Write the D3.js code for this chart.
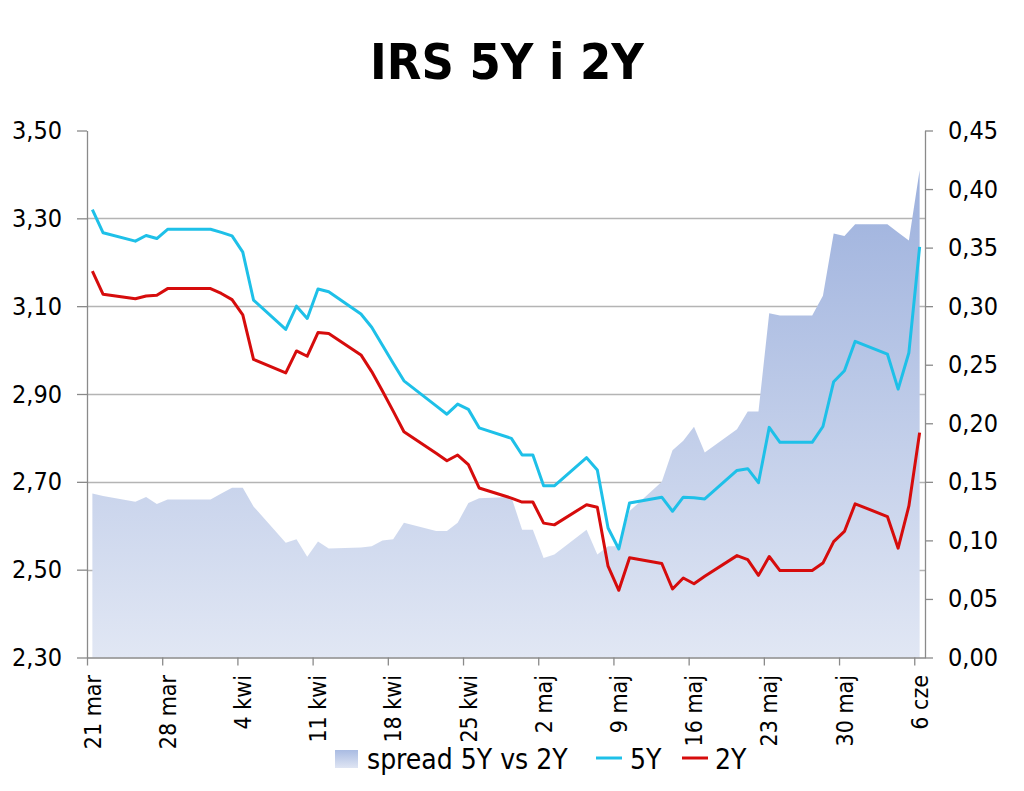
<!DOCTYPE html>
<html lang="pl">
<head>
<meta charset="utf-8">
<title>IRS 5Y i 2Y</title>
<script src="https://d3js.org/d3.v7.min.js"></script>
<style>
  body { margin: 0; background: #fff; }
  svg text { font-family: "DejaVu Sans Condensed", "DejaVu Sans", sans-serif; font-stretch: condensed; fill: #000; }
</style>
</head>
<body>
<script>
// dates of the quotes (holidays carry the previous value)
let dates = ["2013-03-21","2013-03-22","2013-03-25","2013-03-26","2013-03-27","2013-03-28","2013-03-29",
  "2013-04-01","2013-04-02","2013-04-03","2013-04-04","2013-04-05","2013-04-08","2013-04-09","2013-04-10",
  "2013-04-11","2013-04-12","2013-04-15","2013-04-16","2013-04-17","2013-04-18","2013-04-19","2013-04-22",
  "2013-04-23","2013-04-24","2013-04-25","2013-04-26","2013-04-29","2013-04-30","2013-05-01","2013-05-02",
  "2013-05-03","2013-05-06","2013-05-07","2013-05-08","2013-05-09","2013-05-10","2013-05-13","2013-05-14",
  "2013-05-15","2013-05-16","2013-05-17","2013-05-20","2013-05-21","2013-05-22","2013-05-23","2013-05-24",
  "2013-05-27","2013-05-28","2013-05-29","2013-05-30","2013-05-31","2013-06-03","2013-06-04","2013-06-05",
  "2013-06-06"];

let irs5y = [3.320,3.267,3.248,3.261,3.254,3.275,3.275,
  3.275,3.268,3.260,3.223,3.114,3.047,3.100,3.072,
  3.139,3.133,3.082,3.052,3.011,2.970,2.930,2.873,
  2.854,2.877,2.865,2.823,2.799,2.761,2.761,2.691,
  2.691,2.755,2.727,2.595,2.547,2.652,2.665,2.633,
  2.665,2.664,2.661,2.726,2.730,2.698,2.824,2.790,
  2.790,2.826,2.928,2.953,3.020,2.991,2.911,2.994,
  3.235];

let irs2y = [3.180,3.127,3.117,3.123,3.125,3.140,3.140,
  3.140,3.129,3.115,3.080,2.979,2.948,2.998,2.986,
  3.040,3.038,2.989,2.951,2.907,2.861,2.814,2.765,
  2.748,2.761,2.739,2.686,2.663,2.654,2.654,2.606,
  2.602,2.648,2.642,2.508,2.453,2.527,2.514,2.456,
  2.481,2.468,2.485,2.532,2.523,2.487,2.530,2.498,
  2.498,2.515,2.564,2.587,2.650,2.621,2.549,2.645,
  2.812];

let spread = [0.140,0.138,0.133,0.137,0.131,0.135,0.135,
  0.135,0.140,0.145,0.145,0.129,0.098,0.101,0.086,
  0.099,0.093,0.094,0.095,0.100,0.101,0.115,0.108,
  0.108,0.115,0.132,0.136,0.137,0.109,0.109,0.085,
  0.088,0.109,0.088,0.095,0.095,0.125,0.150,0.177,
  0.185,0.197,0.175,0.195,0.210,0.210,0.294,0.292,
  0.292,0.309,0.362,0.360,0.370,0.370,0.363,0.356,
  0.416];

let tickDates = ["2013-03-21","2013-03-28","2013-04-04","2013-04-11","2013-04-18","2013-04-25",
  "2013-05-02","2013-05-09","2013-05-16","2013-05-23","2013-05-30","2013-06-06"];
let tickLabels = ["21 mar","28 mar","4 kwi","11 kwi","18 kwi","25 kwi",
  "2 maj","9 maj","16 maj","23 maj","30 maj","6 cze"];

let leftTicks = [2.30, 2.50, 2.70, 2.90, 3.10, 3.30, 3.50];
let rightTicks = [0, 0.05, 0.10, 0.15, 0.20, 0.25, 0.30, 0.35, 0.40, 0.45];

let w = 1024, h = 791;
let plotLeft = 87, plotRight = 925, plotTop = 130.5, plotBottom = 657.5;

let parse = d3.timeParse("%Y-%m-%d");
// each quote sits in the middle of its day
let mid = function (s) { return d3.timeHour.offset(parse(s), 12); };

let x = d3.scaleTime()
  .domain([parse("2013-03-21"), parse("2013-06-07")])
  .range([plotLeft, plotRight]);
let yL = d3.scaleLinear().domain([2.30, 3.50]).range([plotBottom, plotTop]);
let yR = d3.scaleLinear().domain([0, 0.45]).range([plotBottom, plotTop]);

let comma = function (d) { return d3.format(".2f")(d).replace(".", ","); };

let svg = d3.select("body").append("svg")
  .attr("width", w)
  .attr("height", h);

// gradient for the spread area
let defs = svg.append("defs");
let grad = defs.append("linearGradient")
  .attr("id", "spreadFill")
  .attr("gradientUnits", "userSpaceOnUse")
  .attr("x1", 0).attr("x2", 0)
  .attr("y1", plotTop).attr("y2", plotBottom);
grad.append("stop").attr("offset", "0%").attr("stop-color", "#97acdb");
grad.append("stop").attr("offset", "100%").attr("stop-color", "#e1e7f4");

let legGrad = defs.append("linearGradient")
  .attr("id", "legFill")
  .attr("x1", 0).attr("x2", 0).attr("y1", 0).attr("y2", 1);
legGrad.append("stop").attr("offset", "0%").attr("stop-color", "#a9bbe2");
legGrad.append("stop").attr("offset", "100%").attr("stop-color", "#dfe5f3");

// title
svg.append("text")
  .attr("x", 507).attr("y", 79)
  .attr("text-anchor", "middle")
  .attr("font-size", "50px")
  .attr("font-weight", "bold")
  .text("IRS 5Y i 2Y");

// grid lines
svg.append("g").selectAll("line")
  .data(leftTicks.slice(1, -1))
  .enter().append("line")
  .attr("x1", plotLeft).attr("x2", plotRight)
  .attr("y1", function (d) { return Math.round(yL(d)) + 0.5; })
  .attr("y2", function (d) { return Math.round(yL(d)) + 0.5; })
  .attr("stroke", "#b4b4b4")
  .attr("stroke-width", 1.3);

// spread area (right axis)
let area = d3.area()
  .x(function (d, i) { return x(mid(dates[i])); })
  .y0(yR(0))
  .y1(function (d) { return yR(d); });

svg.append("path")
  .datum(spread)
  .attr("d", area)
  .attr("fill", "url(#spreadFill)");

// lines (left axis)
let line = d3.line()
  .x(function (d, i) { return x(mid(dates[i])); })
  .y(function (d) { return yL(d); });

svg.append("path")
  .datum(irs5y)
  .attr("d", line)
  .attr("fill", "none")
  .attr("stroke", "#1ec0e8")
  .attr("stroke-width", 3)
  .attr("stroke-linejoin", "round");

svg.append("path")
  .datum(irs2y)
  .attr("d", line)
  .attr("fill", "none")
  .attr("stroke", "#d60c0c")
  .attr("stroke-width", 3)
  .attr("stroke-linejoin", "round");

// axes
let axisColor = "#8a8a8a";

let gL = svg.append("g")
  .attr("transform", "translate(" + plotLeft + ",0)")
  .call(d3.axisLeft(yL).tickValues(leftTicks).tickFormat(comma).tickSize(10).tickSizeOuter(0).tickPadding(15));

let gR = svg.append("g")
  .attr("transform", "translate(" + plotRight + ",0)")
  .call(d3.axisRight(yR).tickValues(rightTicks).tickFormat(comma).tickSize(8).tickSizeOuter(0).tickPadding(15));

let gB = svg.append("g")
  .attr("transform", "translate(0," + plotBottom + ")")
  .call(d3.axisBottom(x).tickValues(tickDates.map(parse)).tickFormat("").tickSize(8).tickSizeOuter(0));

[gL, gR, gB].forEach(function (g) {
  g.select(".domain").attr("stroke", axisColor).attr("stroke-width", 1.3);
  g.selectAll(".tick line").attr("stroke", axisColor).attr("stroke-width", 1.3);
  g.selectAll("text").attr("font-size", "25px").attr("font-family", null).attr("fill", "#000");
});

// rotated date labels
svg.append("g").selectAll("text")
  .data(tickDates)
  .enter().append("text")
  .attr("transform", function (d) {
    return "translate(" + x(mid(d)) + ",675) rotate(-90)";
  })
  .attr("text-anchor", "end")
  .attr("dy", "0.36em")
  .attr("font-size", "23px")
  .text(function (d, i) { return tickLabels[i]; });

// legend
let leg = svg.append("g");
leg.append("rect")
  .attr("x", 335).attr("y", 750).attr("width", 23).attr("height", 18)
  .attr("fill", "url(#legFill)");
leg.append("text").attr("x", 367).attr("y", 769).attr("font-size", "28px").text("spread 5Y vs 2Y");
leg.append("line").attr("x1", 596).attr("x2", 622).attr("y1", 758).attr("y2", 758)
  .attr("stroke", "#1ec0e8").attr("stroke-width", 3);
leg.append("text").attr("x", 630).attr("y", 769).attr("font-size", "28px").text("5Y");
leg.append("line").attr("x1", 682).attr("x2", 708).attr("y1", 758).attr("y2", 758)
  .attr("stroke", "#d60c0c").attr("stroke-width", 3);
leg.append("text").attr("x", 715).attr("y", 769).attr("font-size", "28px").text("2Y");
</script>
</body>
</html>
